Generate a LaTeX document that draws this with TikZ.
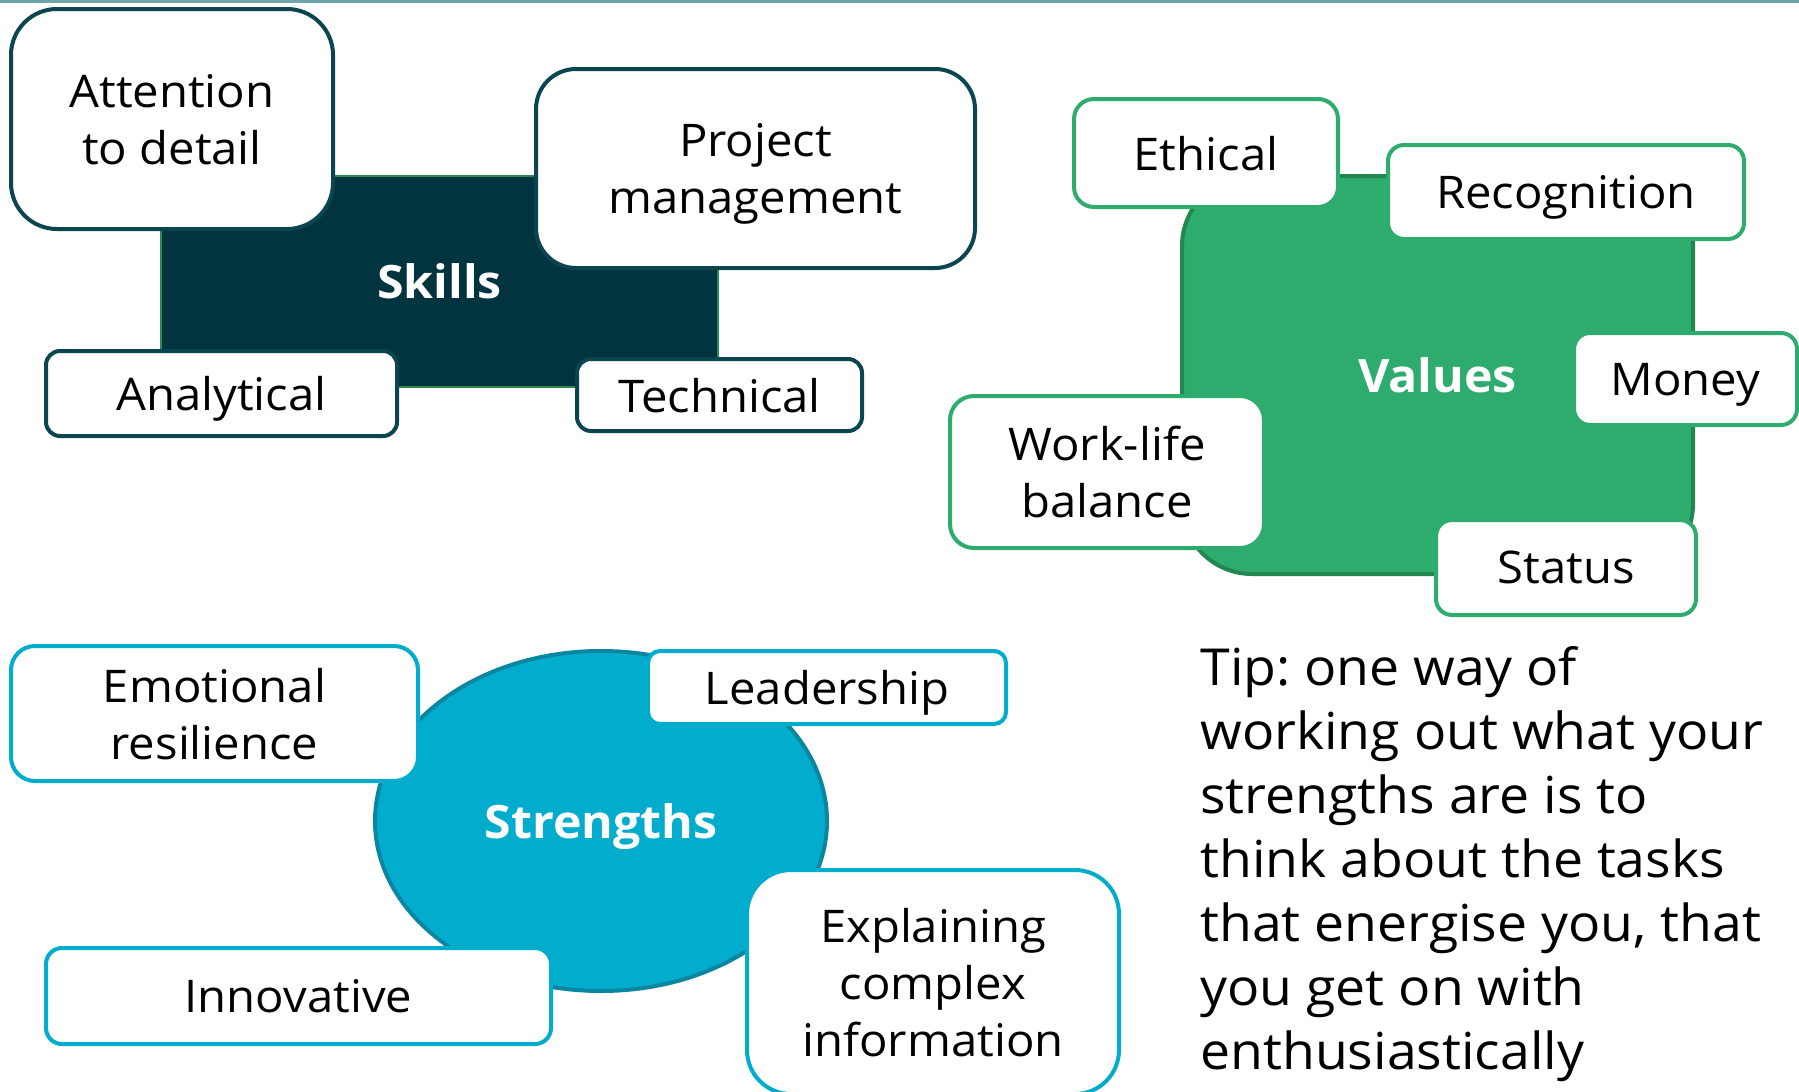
\documentclass[tikz,border=0pt]{standalone}
\usepackage{fontspec}
\setmainfont{Open Sans}[FakeStretch=1.05]
\usetikzlibrary{shapes.geometric}
\definecolor{skilldark}{HTML}{02343F}
\definecolor{skillline}{HTML}{0B4650}
\definecolor{skillgreen}{HTML}{2A8A55}
\definecolor{valfill}{HTML}{2EAC6E}
\definecolor{valline}{HTML}{22864F}
\definecolor{strfill}{HTML}{02ACCD}
\definecolor{strline}{HTML}{0A86A0}
\definecolor{topline}{HTML}{6FA5A8}

\begin{document}
\frenchspacing
\begin{tikzpicture}[x=0.5pt, y=-0.5pt,
  hub/.style={text=white, inner sep=0pt, align=center, text depth=0pt,
              font=\bfseries\fontsize{23}{28}\selectfont},
  item/.style={draw, fill=white, line width=2pt, align=center,
               inner sep=0pt, text depth=0pt,
               font=\fontsize{22.5}{28.5}\selectfont},
  skl/.style={item, draw=skillline},
  val/.style={item, draw=valfill},
  str/.style={item, draw=strfill},
  tip/.style={align=left, inner sep=0pt,
              font=\fontsize{25.5}{32}\selectfont}
]
\useasboundingbox (0,0) rectangle (1799,1092);
\draw[topline, line width=1.5pt] (0,1) -- (1799,1);
% Skills
\node[hub, fill=skilldark, draw=skillgreen, line width=1.2pt,
      minimum width=278.5pt, minimum height=105.5pt]
  (skills) at (439.5,281.5) {Skills};
\node[skl, minimum width=161pt, minimum height=110pt,
      rounded corners=23pt] (att) at (172,119) {Attention\\to detail};
\node[skl, minimum width=219.5pt, minimum height=99.5pt,
      rounded corners=20pt] (proj) at (755.5,168.5) {Project\\management};
\node[skl, minimum width=175.5pt, minimum height=42.5pt,
      rounded corners=7pt] (ana) at (221.5,393.5) {Analytical};
\node[skl, minimum width=142.5pt, minimum height=36pt,
      rounded corners=7pt] (tech) at (719.5,395) {Technical};
% Values
\node[hub, fill=valfill, draw=valline, line width=2pt,
      rounded corners=35pt, minimum width=255.5pt, minimum height=199pt]
  (values) at (1437.5,375) {Values};
\node[val, minimum width=132pt, minimum height=54pt,
      rounded corners=10pt] (eth) at (1206,153) {Ethical};
\node[val, minimum width=178pt, minimum height=47pt,
      rounded corners=8pt] (rec) at (1566,192) {Recognition};
\node[val, minimum width=111.5pt, minimum height=46pt,
      rounded corners=8pt] (money) at (1685.5,379) {Money};
\node[val, minimum width=157pt, minimum height=76pt,
      rounded corners=12pt] (wlb) at (1107,472) {Work-life\\balance};
\node[val, minimum width=130pt, minimum height=47.5pt,
      rounded corners=8pt] (status) at (1566,567.5) {Status};
% Strengths
\node[hub, ellipse, fill=strfill, draw=strline, line width=2pt,
      minimum width=226pt, minimum height=170pt]
  (strengths) at (601,821) {Strengths};
\node[str, minimum width=203.5pt, minimum height=67.5pt,
      rounded corners=12pt] (emo) at (214.5,713.5) {Emotional\\resilience};
\node[str, minimum width=179pt, minimum height=36.5pt,
      rounded corners=6pt] (lead) at (827,687.5) {Leadership};
\node[str, minimum width=252.5pt, minimum height=48pt,
      rounded corners=8pt] (inno) at (298.5,996) {Innovative};
\node[str, minimum width=186pt, minimum height=112pt,
      rounded corners=22pt] (expl) at (933,982)
  {Explaining\\complex\\information};
% Tip
\node[tip, anchor=north west] (tipnote) at (1200,646)
  {Tip: one way of\\working out what your\\strengths are is to\\
   think about the tasks\\that energise you, that\\you get on with\\
   enthusiastically};
\end{tikzpicture}
\end{document}
